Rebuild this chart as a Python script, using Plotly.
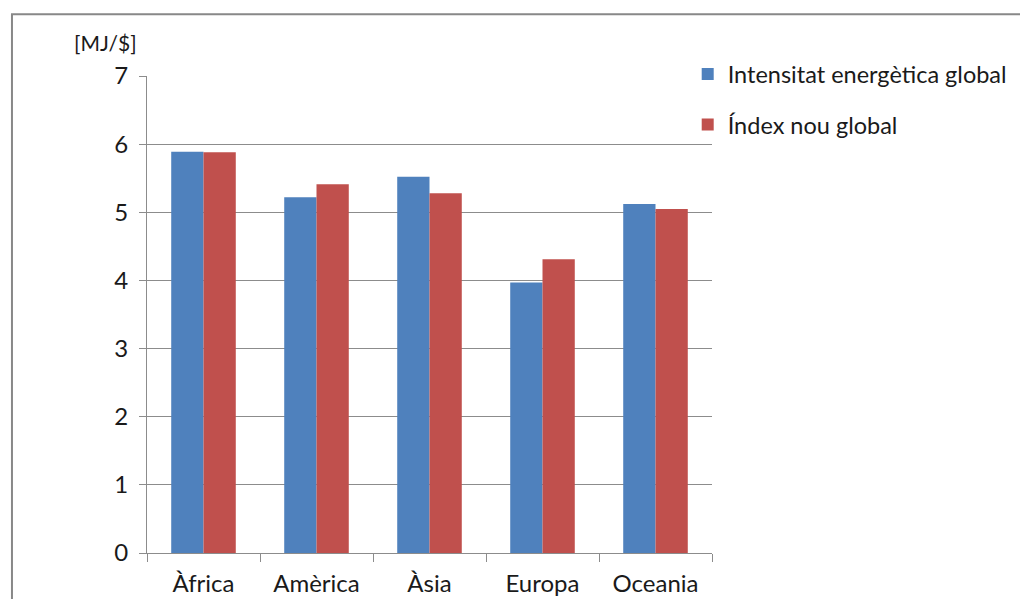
import plotly.graph_objects as go

# Energy intensity by continent
regions = ["Àfrica", "Amèrica", "Àsia", "Europa", "Oceania"]
intensitat_global = [5.89, 5.22, 5.52, 3.97, 5.12]
index_nou_global = [5.88, 5.41, 5.28, 4.31, 5.05]
y_ticks = [0, 1, 2, 3, 4, 5, 6, 7]

FONT = "Lato"
GRID = "#8c8c8c"
TEXT = "#1a1a1a"

fig = go.Figure()
fig.add_trace(go.Bar(
    x=regions, y=intensitat_global, name="Intensitat energètica global",
    marker=dict(color="#4F81BD", line=dict(width=0)), legendgroup="a",
))
fig.add_trace(go.Bar(
    x=regions, y=index_nou_global, name="Índex nou global",
    marker=dict(color="#C0504D", line=dict(width=0)), legendgroup="b",
))

fig.update_layout(
    width=1020, height=599,
    margin=dict(l=147, r=308, t=76, b=46, autoexpand=False),
    paper_bgcolor="white", plot_bgcolor="white",
    barmode="group", bargap=0.4286, bargroupgap=0,
    font=dict(family=FONT, size=24, color=TEXT),
    showlegend=True,
    legend=dict(
        x=0.957, xanchor="left", y=1.05, yanchor="top",
        bgcolor="rgba(0,0,0,0)", font=dict(size=23.5),
        tracegroupgap=17, itemwidth=30,
    ),
    xaxis=dict(
        showline=True, linecolor=GRID, linewidth=1,
        ticks="outside", tickson="boundaries", ticklen=8, tickcolor=GRID,
        showgrid=False, tickfont=dict(size=24), ticklabelstandoff=9,
    ),
    yaxis=dict(
        range=[0, 7], tickvals=y_ticks, showline=True, linecolor=GRID, linewidth=1,
        ticks="outside", ticklen=7, tickcolor=GRID,
        showgrid=True, gridcolor=GRID, gridwidth=1, zeroline=False,
        tickfont=dict(size=24), ticklabelstandoff=6,
    ),
)

# Unit label above the value axis
fig.add_annotation(
    text="[MJ/$]", xref="paper", yref="paper", x=-0.074, y=1.04,
    xanchor="center", yanchor="bottom", showarrow=False,
    font=dict(size=21, family=FONT, color=TEXT),
)

# Chart frame
fig.add_shape(
    type="rect", xref="paper", yref="paper",
    x0=-0.2390, x1=1.8, y0=-0.2, y1=1.1295,
    line=dict(color="#888888", width=2), fillcolor="rgba(0,0,0,0)", layer="below",
)

fig.write_html("out.html")
